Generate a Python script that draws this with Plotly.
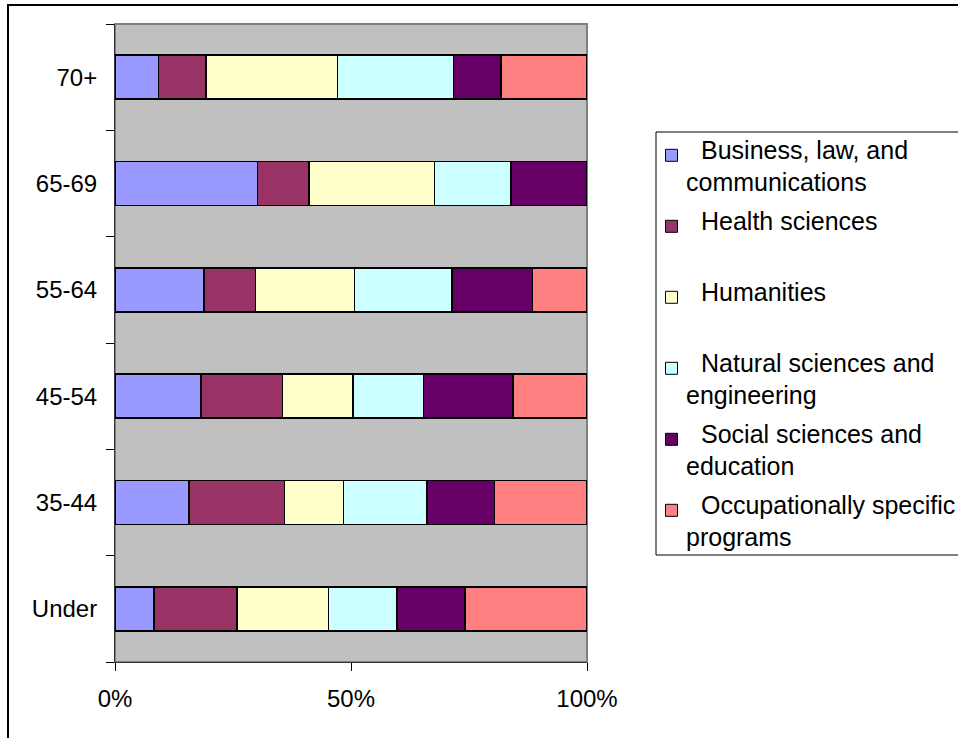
import plotly.graph_objects as go

# Age groups (bottom to top) and share of each field of study, in percent
age_groups = ["Under", "35-44", "45-54", "55-64", "65-69", "70+"]

business = [8.3, 15.7, 18.2, 18.9, 30.2, 9.2]
health = [17.5, 20.2, 17.3, 10.9, 10.9, 10.1]
humanities = [19.4, 12.5, 14.9, 20.9, 26.6, 27.8]
natural_sci = [14.5, 17.7, 15.0, 20.7, 16.2, 24.6]
social_sci = [14.5, 14.3, 18.9, 17.0, 16.1, 10.1]
occupational = [25.8, 19.6, 15.7, 11.6, 0.0, 18.2]

series_names = [
    "Business, law, and\ncommunications",
    "Health sciences",
    "Humanities",
    "Natural sciences and\nengineering",
    "Social sciences and\neducation",
    "Occupationally specific\nprograms",
]
series_values = [business, health, humanities, natural_sci, social_sci, occupational]
series_colors = ["#9999FF", "#993366", "#FFFFCC", "#CCFFFF", "#660066", "#FF8080"]

x_ticks = [0, 50, 100]
x_tick_text = ["0%", "50%", "100%"]

# Page geometry (pixels)
W, H = 958, 738
L, R, T, B = 115, 587, 24, 662


def px(x):
    return (x - L) / (R - L)


def py(y):
    return (B - y) / (B - T)


FONT = "Liberation Sans, Arial, sans-serif"

fig = go.Figure()
for name, vals, col in zip(series_names, series_values, series_colors):
    fig.add_trace(go.Bar(
        y=age_groups,
        x=vals,
        name=name.replace("\n", " "),
        orientation="h",
        marker=dict(color=col, line=dict(color="#000000", width=1.5)),
        showlegend=False,
    ))

shapes = [
    # plot-area frame
    dict(type="rect", xref="paper", yref="paper", x0=0, y0=0, x1=1, y1=1,
         line=dict(color="#808080", width=2), layer="below"),
    # outer chart frame
    dict(type="rect", xref="paper", yref="paper", x0=px(8), y0=py(5),
         x1=px(975), y1=py(760), line=dict(color="#000000", width=2)),
    # legend box
    dict(type="rect", xref="paper", yref="paper", x0=px(656), y0=py(132),
         x1=px(975), y1=py(555), line=dict(color="#000000", width=1),
         fillcolor="rgba(255,255,255,0)"),
]
annotations = []

# Legend entries: swatch + wrapped label
first_baseline = 158.3
step = 71.0
line_gap = 31.7
for i, (name, col) in enumerate(zip(series_names, series_colors)):
    base = first_baseline + step * i
    cy = base - 3
    shapes.append(dict(type="rect", xref="paper", yref="paper",
                       x0=px(665.5), x1=px(677.5), y0=py(cy + 6), y1=py(cy - 6),
                       fillcolor=col, line=dict(color="#000000", width=1)))
    for j, line in enumerate(name.split("\n")):
        annotations.append(dict(
            xref="paper", yref="paper",
            x=px(700 if j == 0 else 685), y=py(base + j * line_gap - 8.5),
            xanchor="left", yanchor="middle", text=line, showarrow=False,
            borderpad=0, font=dict(family=FONT, size=25, color="#000000"),
        ))

fig.update_layout(
    width=W, height=H,
    margin=dict(l=L, r=W - R, t=T, b=H - B, autoexpand=False),
    barmode="stack",
    bargap=0.585,
    plot_bgcolor="#C0C0C0",
    paper_bgcolor="#FFFFFF",
    font=dict(family=FONT, size=24, color="#000000"),
    shapes=shapes,
    annotations=annotations,
    showlegend=False,
)
fig.update_xaxes(
    range=[0, 100], tickvals=x_ticks, ticktext=x_tick_text,
    showgrid=False, zeroline=False, showline=True, linecolor="#333333", linewidth=1,
    ticks="outside", ticklen=8, tickcolor="#000000", tickwidth=1,
    ticklabelstandoff=7,
    tickfont=dict(family=FONT, size=24, color="#000000"), fixedrange=True,
)
fig.update_yaxes(
    categoryorder="array", categoryarray=age_groups, tickson="boundaries",
    showgrid=False, zeroline=False, showline=True, linecolor="#333333", linewidth=1,
    ticks="outside", ticklen=8, tickcolor="#000000", tickwidth=1,
    ticklabelstandoff=12,
    tickfont=dict(family=FONT, size=24, color="#000000"), fixedrange=True,
)

fig.write_html("out.html", config={"displayModeBar": False})
